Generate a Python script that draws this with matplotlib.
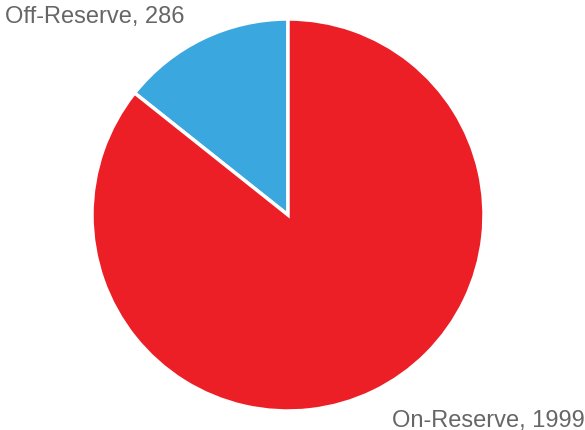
import matplotlib.pyplot as plt

labels = ["Off-Reserve", "On-Reserve"]
values = [286, 1999]
# wedge sizes as drawn in the source picture (blue slice spans ~52 degrees)
wedge_sizes = [286, 1713]
colors = ["#3AA8DF", "#EC1F27"]

plt.rcParams["font.family"] = ["Liberation Sans", "DejaVu Sans"]

W, H = 585, 431
fig = plt.figure(figsize=(W / 100, H / 100), dpi=100)
cx, cy, r = 288, 216, 196
ax = fig.add_axes([(cx - r) / W, (H - cy - r) / H, 2 * r / W, 2 * r / H])
ax.pie(wedge_sizes, colors=colors, startangle=90, counterclock=True, radius=1,
       wedgeprops=dict(edgecolor="white", linewidth=2.5))
ax.set_xlim(-1, 1)
ax.set_ylim(-1, 1)
ax.set_aspect("auto")
ax.axis("off")

fig.text(5 / W, (H - 23) / H, f"{labels[0]}, {values[0]}", ha="left", va="baseline",
         fontsize=17, color="#666666")
fig.text(585 / W, (H - 427) / H, f"{labels[1]}, {values[1]}", ha="right", va="baseline",
         fontsize=17, color="#666666")

fig.savefig("out.png", dpi=100)
